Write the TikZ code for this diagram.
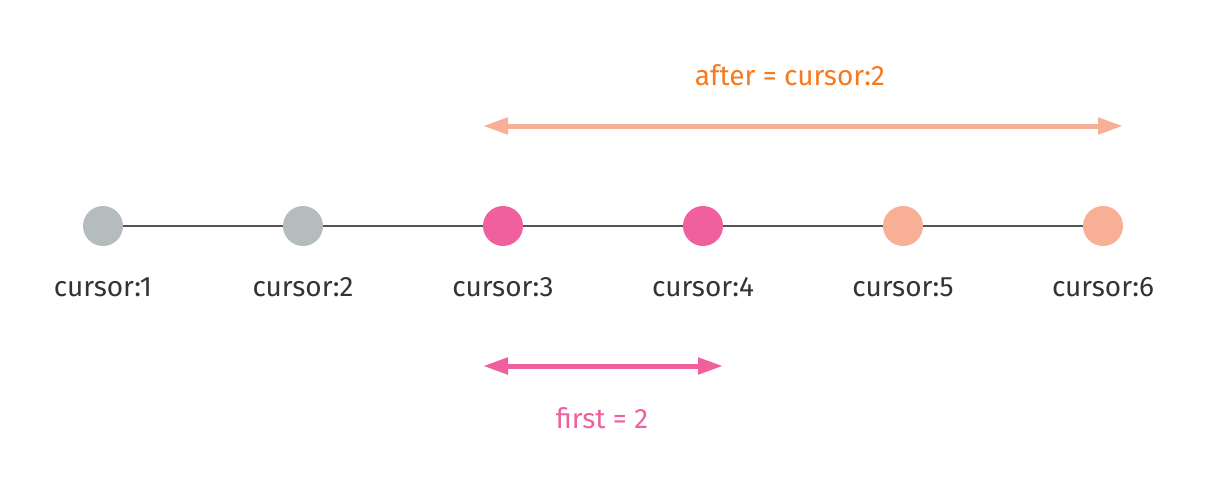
\documentclass[tikz,border=0pt]{standalone}
\usepackage{fontspec}
\setmainfont{Fira Sans}
\usetikzlibrary{arrows.meta,calc}
\definecolor{dotgrey}{HTML}{B5BCBD}
\definecolor{dotpink}{HTML}{F0609E}
\definecolor{dotsalmon}{HTML}{F7AF95}
\definecolor{txtorange}{HTML}{F57A1E}
\definecolor{txtdark}{HTML}{333333}
\definecolor{linegrey}{HTML}{555555}
\tikzset{
  dot/.style={circle, minimum size=30pt, inner sep=0pt, fill=#1},
  txt/.style={font=\fontsize{21pt}{24pt}\selectfont, inner sep=0pt},
  lbl/.style={txt, text=txtdark},
  span/.style={line width=3.75pt, draw=#1, {Triangle[length=18.75pt,width=12pt]}-{Triangle[length=18.75pt,width=12pt]}},
}
\begin{document}
\begin{tikzpicture}[x=0.75pt,y=-0.75pt]
\useasboundingbox (0,0) rectangle (1205,489);
\node[dot=dotgrey] (c1) at (103,226) {};
\node[dot=dotgrey] (c2) at (303,226) {};
\node[dot=dotpink] (c3) at (503,226) {};
\node[dot=dotpink] (c4) at (703,226) {};
\node[dot=dotsalmon] (c5) at (903,226) {};
\node[dot=dotsalmon] (c6) at (1103,226) {};
\foreach \a/\b in {c1/c2,c2/c3,c3/c4,c4/c5,c5/c6}
  \draw[linegrey, line width=1.1pt] (\a) -- (\b);
\foreach \i in {1,...,6}
  \node[lbl] (l\i) at ($(c\i)+(0,61)$) {cursor:\i};
\coordinate (a1) at (483,126);
\coordinate (a2) at (1123,126);
\draw[span=dotsalmon] (a1) -- (a2);
\node[txt, text=txtorange] (after) at (790,75) {after = cursor:2};
\coordinate (b1) at (483,366);
\coordinate (b2) at (723,366);
\draw[span=dotpink] (b1) -- (b2);
\node[txt, text=dotpink] (first) at (602,418) {first = 2};
\end{tikzpicture}
\end{document}
